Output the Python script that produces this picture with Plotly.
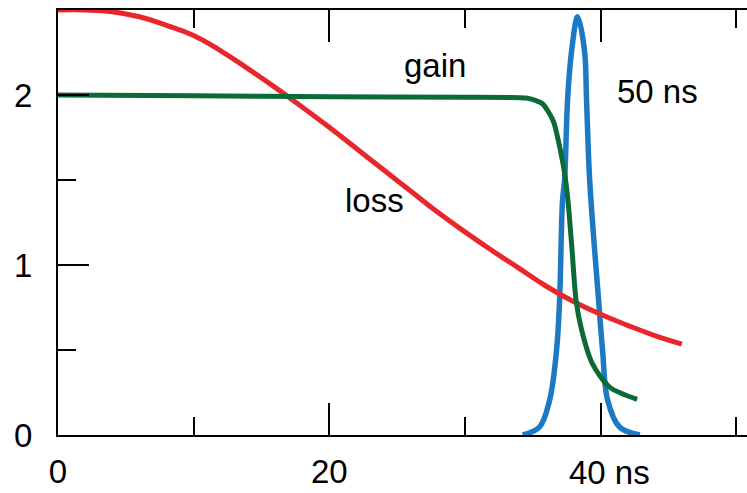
import plotly.graph_objects as go

# Loss curve (red)
loss_t = [0, 2, 4, 6, 8, 10, 12, 14, 16, 18, 20, 22, 24, 26, 28, 30, 32, 34, 36, 38, 40, 42, 44, 46]
loss_v = [2.5, 2.5, 2.49, 2.46, 2.41, 2.35, 2.26, 2.155, 2.045, 1.93, 1.81, 1.685, 1.56, 1.435, 1.31,
          1.195, 1.085, 0.98, 0.875, 0.785, 0.71, 0.645, 0.585, 0.535]

# Gain curve (green)
gain_t = [0, 10, 20, 30, 33, 34.5, 35.2, 35.7, 36.5, 37.0, 37.35, 37.6, 37.9, 38.2, 38.6, 39.4, 40.7, 42.7]
gain_v = [2.0, 1.995, 1.99, 1.987, 1.986, 1.982, 1.968, 1.95, 1.85, 1.69, 1.54, 1.38, 1.09, 0.79, 0.62,
          0.42, 0.28, 0.21]

# Pulse (blue)
pulse_t = [34.26, 35.5, 36.25, 36.76, 36.98, 37.2, 37.35, 37.57, 37.87, 38.31,
           38.82, 38.97, 39.2, 39.86, 40.15, 40.52, 41.4, 42.9]
pulse_v = [0.0, 0.047, 0.206, 0.5, 0.79, 1.38, 1.5, 1.97, 2.26, 2.46,
           2.26, 1.97, 1.5, 0.79, 0.5, 0.206, 0.047, 0.0]

x_tickvals = [0, 20, 40]
x_ticktext = ["0", "20", ""]
y_tickvals = [0, 1, 2]
y_ticktext = ["0", "1", "2"]

FONT = "Arial, Liberation Sans, sans-serif"
FS = 33
RED = "#e8262b"
GREEN = "#0b6a36"
BLUE = "#1c7ac4"

fig = go.Figure()
fig.add_trace(go.Scatter(x=pulse_t, y=pulse_v, mode="lines",
                         line=dict(color=BLUE, width=5.5, shape="spline", smoothing=1.0)))
fig.add_trace(go.Scatter(x=loss_t, y=loss_v, mode="lines",
                         line=dict(color=RED, width=5, shape="spline", smoothing=1.3)))
fig.add_trace(go.Scatter(x=gain_t, y=gain_v, mode="lines",
                         line=dict(color=GREEN, width=5, shape="spline", smoothing=0.8)))

annotations = [
    dict(x=27.77, y=2.174, text="gain"),
    dict(x=23.34, y=1.382, text="loss"),
    dict(x=44.17, y=2.02, text="50 ns"),
]
for a in annotations:
    a.update(xref="x", yref="y", showarrow=False, xanchor="center", yanchor="middle",
             font=dict(family=FONT, size=FS, color="black"))
# bottom label for 40 with unit
annotations.append(dict(x=40, y=0, xref="x", yref="y", text="40 ns", showarrow=False,
                        xanchor="center", yanchor="top", xshift=9, yshift=-17,
                        font=dict(family=FONT, size=FS, color="black")))

fig.update_layout(
    width=747, height=493,
    margin=dict(l=58, r=0, t=10, b=58, autoexpand=False),
    paper_bgcolor="white", plot_bgcolor="white",
    showlegend=False,
    font=dict(family=FONT, size=FS, color="black"),
    annotations=annotations,
    xaxis=dict(
        range=[0, 50.8], showgrid=False, zeroline=False, automargin=False,
        showline=True, linecolor="black", linewidth=2, mirror="ticks",
        ticks="inside", ticklen=32, tickwidth=2, tickcolor="black",
        tickvals=x_tickvals, ticktext=x_ticktext, ticklabelstandoff=6,
        minor=dict(dtick=10, tick0=0, ticks="inside", ticklen=18, tickwidth=2, tickcolor="black"),
    ),
    yaxis=dict(
        range=[0, 2.5], showgrid=False, zeroline=False, automargin=False,
        showline=True, linecolor="black", linewidth=2, mirror=False,
        ticks="inside", ticklen=31, tickwidth=2, tickcolor="black",
        tickvals=y_tickvals, ticktext=y_ticktext, ticklabelstandoff=17,
        minor=dict(dtick=0.5, tick0=0, ticks="inside", ticklen=18, tickwidth=2, tickcolor="black"),
    ),
    yaxis2=dict(
        range=[0, 2.5], overlaying="y", side="right", anchor="x", automargin=False,
        showgrid=False, zeroline=False, showline=False, showticklabels=False,
        ticks="inside", ticklen=20, tickwidth=2, tickcolor="black", dtick=1, tick0=0,
        minor=dict(dtick=0.5, tick0=0, ticks="inside", ticklen=6, tickwidth=2, tickcolor="black"),
    ),
)

fig.write_html("out.html")
